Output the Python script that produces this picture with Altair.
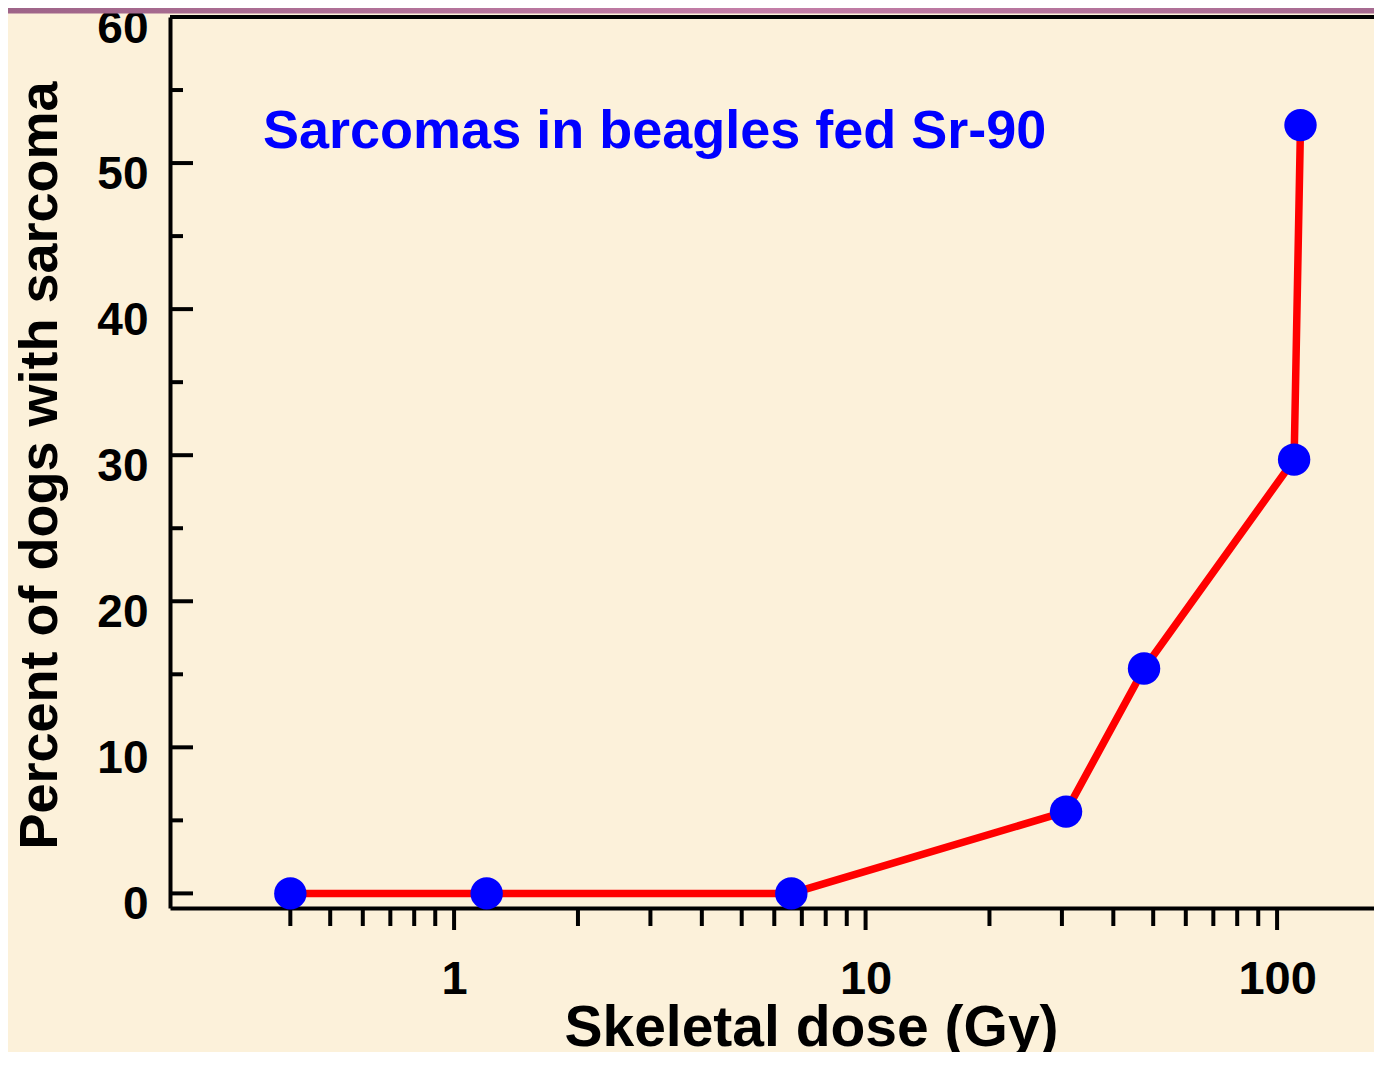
import altair as alt
import pandas as pd

# ---- data ----
dose = [0.4, 1.2, 6.6, 30.7, 47.5, 110, 114]
percent = [0, 0, 0, 5.6, 15.4, 29.7, 52.6]

y_major = [0, 10, 20, 30, 40, 50, 60]
y_minor = [5, 15, 25, 35, 45, 55]
x_major = [1, 10, 100]
x_minor = [0.4, 0.5, 0.6, 0.7, 0.8, 0.9,
           2, 3, 4, 5, 6, 7, 8, 9,
           20, 30, 40, 50, 60, 70, 80, 90]

title_text = "Sarcomas in beagles fed Sr-90"
x_title = "Skeletal dose (Gy)"
y_title = "Percent of dogs with sarcoma"

W, H = 1204, 891
FONT = "Liberation Sans"

df = pd.DataFrame({"dose": dose, "percent": percent, "order": list(range(len(dose)))})
xs = alt.Scale(type="log", domain=[0.204, 172], nice=False)
ys = alt.Scale(domain=[-1, 60], nice=False, zero=False)

x_axis = alt.Axis(values=x_major, format="d", ticks=False, tickSize=0, grid=False,
                  domainWidth=4, domainColor="black",
                  labelFont=FONT, labelFontSize=47, labelFontWeight="bold", labelColor="black",
                  labelPadding=48, labelBaseline="top",
                  title=x_title, titleFont=FONT, titleFontSize=57, titleFontWeight="bold",
                  titleColor="black", titleX=641, titleY=137, titleBaseline="alphabetic",
                  titleAlign="center")
y_axis = alt.Axis(values=y_major, format="d", ticks=False, tickSize=0, grid=False,
                  domainWidth=4, domainColor="black",
                  labelFont=FONT, labelFontSize=46, labelFontWeight="bold", labelColor="black",
                  labelPadding=22, labelOffset=11,
                  title=y_title, titleFont=FONT, titleFontSize=54, titleFontWeight="bold",
                  titleColor="black", titleX=-114, titleY=448, titleAngle=-90,
                  titleBaseline="alphabetic", titleAlign="center")

one = pd.DataFrame({"k": [0]})

band = alt.Chart(one).mark_rect(
    color=alt.Gradient(gradient="linear",
                       stops=[alt.GradientStop(color="#9E6488", offset=0),
                              alt.GradientStop(color="#C47EA8", offset=0.55),
                              alt.GradientStop(color="#A66A90", offset=1)],
                       x1=0, x2=1, y1=0, y2=0)
).encode(x=alt.value(-162), x2=alt.value(W), y=alt.value(-9), y2=alt.value(-3.5))

top_frame = alt.Chart(one).mark_rule(color="black", strokeWidth=4).encode(
    x=alt.value(0), x2=alt.value(W), y=alt.value(0))

ymaj = alt.Chart(pd.DataFrame({"percent": y_major})).mark_rule(color="black", strokeWidth=4).encode(
    y=alt.Y("percent:Q", scale=ys), x=alt.value(0), x2=alt.value(23))
ymin = alt.Chart(pd.DataFrame({"percent": y_minor})).mark_rule(color="black", strokeWidth=4).encode(
    y=alt.Y("percent:Q", scale=ys), x=alt.value(0), x2=alt.value(13))
xmaj = alt.Chart(pd.DataFrame({"dose": x_major})).mark_rule(color="black", strokeWidth=4).encode(
    x=alt.X("dose:Q", scale=xs), y=alt.value(H), y2=alt.value(H + 22))
xmin = alt.Chart(pd.DataFrame({"dose": x_minor})).mark_rule(color="black", strokeWidth=4).encode(
    x=alt.X("dose:Q", scale=xs), y=alt.value(H), y2=alt.value(H + 18))

line = alt.Chart(df).mark_line(color="#FF0000", strokeWidth=7.5).encode(
    x=alt.X("dose:Q", scale=xs, axis=x_axis),
    y=alt.Y("percent:Q", scale=ys, axis=y_axis),
    order="order:Q")
pts = alt.Chart(df).mark_circle(color="#0000FF", size=1050, opacity=1).encode(
    x=alt.X("dose:Q", scale=xs), y=alt.Y("percent:Q", scale=ys))

title = alt.Chart(pd.DataFrame({"t": [title_text]})).mark_text(
    font=FONT, fontSize=54, fontWeight="bold", color="#0000FF",
    align="left", baseline="alphabetic").encode(
    text="t:N", x=alt.value(93), y=alt.value(131))

chart = alt.layer(line, band, top_frame, ymaj, ymin, xmaj, xmin, pts, title).properties(
    width=W, height=H,
    padding={"left": 162, "top": 9, "right": 0, "bottom": 144},
    autosize=alt.AutoSizeParams(type="none"),
    background="#FCF1DA",
).configure_view(stroke=None)

chart.save("out.html", embed_options={"renderer": "svg", "actions": False})
